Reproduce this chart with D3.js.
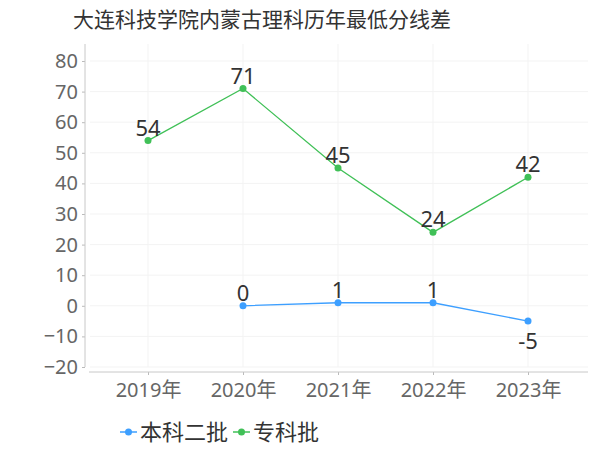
<!DOCTYPE html>
<html>
<head>
<meta charset="utf-8">
<script src="https://cdn.jsdelivr.net/npm/d3@7"></script>
<style>
  body { margin: 0; background: #fff; }
  #chart { width: 600px; height: 450px; }
  text { font-family: "Noto Sans", "Noto Sans CJK SC", sans-serif; }
</style>
</head>
<body>
<div id="chart"></div>
<script>
const years = ["2019年", "2020年", "2021年", "2022年", "2023年"];
const yTicks = [-20, -10, 0, 10, 20, 30, 40, 50, 60, 70, 80];
const seriesNames = ["本科二批", "专科批"];
const benke2 = [null, 0, 1, 1, -5];
const zhuanke = [54, 71, 45, 24, 42];
const colors = ["#3d9fff", "#40c057"];

function draw() {
  const w = 600, h = 450;
  const svg = d3.select("#chart").append("svg")
    .attr("width", w)
    .attr("height", h);

  svg.append("text")
    .attr("x", 73)
    .attr("y", 27)
    .attr("font-size", 21)
    .attr("fill", "#333")
    .text("大连科技学院内蒙古理科历年最低分线差");

  const x = d3.scalePoint().domain(years).range([148, 528]);
  const y = d3.scaleLinear().domain([-20, 80]).range([367, 61]);

  // grid
  const grid = svg.append("g");
  grid.selectAll(".hg").data(yTicks).join("line")
    .attr("x1", 90).attr("x2", 588)
    .attr("y1", d => y(d)).attr("y2", d => y(d))
    .attr("stroke", "#f3f3f3");
  grid.selectAll(".vg").data(years).join("line")
    .attr("x1", d => x(d)).attr("x2", d => x(d))
    .attr("y1", 44).attr("y2", 367)
    .attr("stroke", "#f3f3f3");

  // y axis
  const yAxis = svg.append("g")
    .attr("transform", "translate(85,0)")
    .call(d3.axisLeft(y).tickValues(yTicks).tickSize(3).tickPadding(4));
  yAxis.select(".domain").remove();
  yAxis.selectAll(".tick line").attr("stroke", "#bbb");
  yAxis.selectAll(".tick text").attr("font-size", 20).attr("fill", "#666")
    .attr("font-family", "Noto Sans");
  svg.append("line")
    .attr("x1", 85).attr("x2", 85).attr("y1", 44).attr("y2", 367)
    .attr("stroke", "#c8c8c8");

  // x axis
  const xAxis = svg.append("g")
    .attr("transform", "translate(0,372)")
    .call(d3.axisBottom(x).tickSize(3).tickPadding(8));
  xAxis.select(".domain").remove();
  xAxis.selectAll(".tick line").attr("stroke", "#bbb");
  xAxis.selectAll(".tick text").attr("font-size", 20).attr("fill", "#666")
    .attr("font-family", "Noto Sans, Noto Sans CJK SC");
  svg.append("line")
    .attr("x1", 89).attr("x2", 588).attr("y1", 372).attr("y2", 372)
    .attr("stroke", "#c8c8c8");

  const series = [benke2, zhuanke];
  const line = d3.line()
    .defined(d => d.v !== null)
    .x(d => x(d.k))
    .y(d => y(d.v));

  series.forEach((vals, i) => {
    const pts = vals.map((v, j) => ({ k: years[j], v }));
    const g = svg.append("g");
    g.append("path")
      .datum(pts)
      .attr("d", line)
      .attr("fill", "none")
      .attr("stroke", colors[i])
      .attr("stroke-width", 1.3);
    const valid = pts.filter(d => d.v !== null);
    g.selectAll("circle").data(valid).join("circle")
      .attr("cx", d => x(d.k))
      .attr("cy", d => y(d.v))
      .attr("r", 3.5)
      .attr("fill", colors[i]);
    g.selectAll("text").data(valid).join("text")
      .attr("x", d => x(d.k))
      .attr("y", d => d.v < 0 ? y(d.v) + 28 : y(d.v) - 5)
      .attr("text-anchor", "middle")
      .attr("font-size", 22)
      .attr("fill", "#333")
      .text(d => d.v);
  });

  // legend
  const legend = svg.append("g").attr("transform", "translate(0,432)");
  const lx = [120, 233];
  seriesNames.forEach((name, i) => {
    const item = legend.append("g").attr("transform", `translate(${lx[i]},0)`);
    item.append("line").attr("x1", 0).attr("x2", 17).attr("y1", 0).attr("y2", 0)
      .attr("stroke", colors[i]).attr("stroke-width", 1.5);
    item.append("circle").attr("cx", 8.5).attr("cy", 0).attr("r", 3.5).attr("fill", colors[i]);
    item.append("text").attr("x", 20).attr("y", 8)
      .attr("font-size", 22).attr("fill", "#333").text(name);
  });
}

draw();
</script>
</body>
</html>
